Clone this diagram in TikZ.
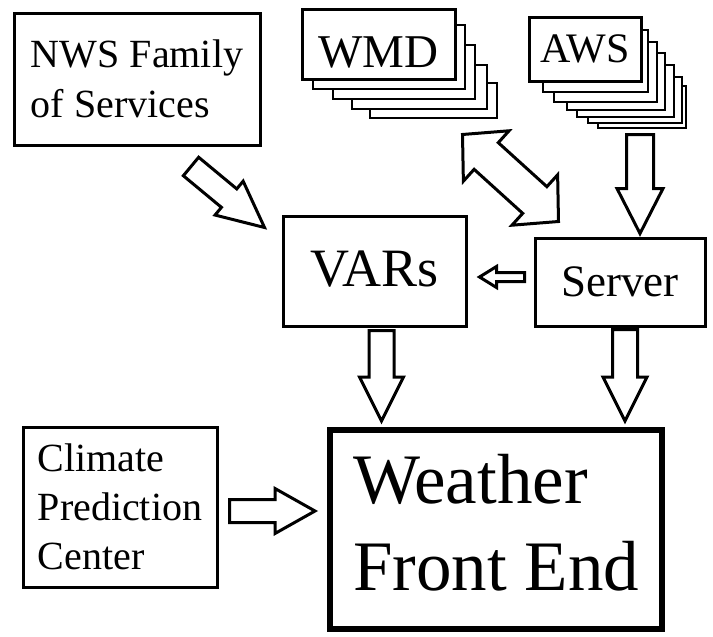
\documentclass[tikz,border=0pt]{standalone}
\usepackage{fontspec}
\setmainfont{Liberation Serif}
\usetikzlibrary{calc}

% hollow block arrow: tail, tip, half shaft, half head, head length
\newcommand{\blockarrow}[5]{%
  \coordinate (ba) at ($(#2)!#5!(#1)$);
  \draw[fatarrow] ($(#1)!#3!90:(#2)$) -- ($(ba)!#3!90:(#2)$) -- ($(ba)!#4!90:(#2)$) -- (#2)
    -- ($(ba)!#4!-90:(#2)$) -- ($(ba)!#3!-90:(#2)$) -- ($(#1)!#3!-90:(#2)$) -- cycle;
}
% two headed version: tip, tip, half shaft, half head, head length
\newcommand{\dblockarrow}[5]{%
  \coordinate (bb1) at ($(#1)!#5!(#2)$);
  \coordinate (bb2) at ($(#2)!#5!(#1)$);
  \draw[fatarrow] (#1) -- ($(bb1)!#4!90:(#2)$) -- ($(bb1)!#3!90:(#2)$) -- ($(bb2)!#3!90:(#2)$)
    -- ($(bb2)!#4!90:(#2)$) -- (#2) -- ($(bb2)!#4!-90:(#2)$) -- ($(bb2)!#3!-90:(#2)$)
    -- ($(bb1)!#3!-90:(#2)$) -- ($(bb1)!#4!-90:(#2)$) -- cycle;
}

\begin{document}
\begin{tikzpicture}[
            x=1pt, y=-1pt,
            sysbox/.style={draw, line width=3pt, fill=white, inner sep=0pt},
            mainbox/.style={sysbox, line width=6pt},
            backbox/.style={draw, line width=2.5pt, fill=white},
            fatarrow/.style={draw, line width=3pt, fill=white, line join=miter}
          ]
          \fill[white] (0,0) rectangle (713,637);
          \useasboundingbox (0,0) rectangle (713,637);
          % stacked copies behind WMD and AWS
          \foreach \xa/\ya/\xb/\yb in {370/83/497/118, 352/65/487/109, 333/45/475/99, 313/25/465/89} {
            \draw[backbox] (\xa,\ya) rectangle (\xb,\yb);
          }
          \foreach \xa/\ya/\xb/\yb in {598/86/686/128, 588/77/682/123, 577/65/674/117, 567/53/665/110, 554/42/657/102, 543/30/648/92} {
            \draw[backbox] (\xa,\ya) rectangle (\xb,\yb);
          }
          \node[sysbox, minimum width=246pt, minimum height=132pt, align=left, font=\fontsize{40pt}{50pt}\selectfont] (nws) at (137,79) {NWS Family\\of Services};
          \node[sysbox, minimum width=153pt, minimum height=70pt, text height=46pt, text depth=0pt, font=\fontsize{47pt}{50pt}\selectfont] (wmd) at (378.5,44) {WMD};
          \node[sysbox, minimum width=112pt, minimum height=64pt, font=\fontsize{42pt}{46pt}\selectfont] (aws) at (585,49) {AWS};
          \node[sysbox, minimum width=183pt, minimum height=110pt, text height=36pt, text depth=6pt, font=\fontsize{54pt}{60pt}\selectfont] (vars) at (374.5,271) {VARs};
          \node[sysbox, minimum width=170pt, minimum height=88pt, font=\fontsize{45pt}{50pt}\selectfont] (server) at (620,282) {Server};
          \node[mainbox, minimum width=332pt, minimum height=199pt, align=left, text depth=14pt, font=\fontsize{71pt}{87pt}\selectfont] (wfe) at (496,529.5) {Weather\\Front End};
          \node[sysbox, minimum width=194pt, minimum height=160pt, align=left, font=\fontsize{40pt}{49pt}\selectfont] (cpc) at (120,507) {Climate\\Prediction\\Center};
          % block arrows
          \coordinate (n1) at ([xshift=54pt, yshift=-20pt]nws.south);
          \coordinate (n2) at ([xshift=-17pt, yshift=-13pt]vars.north west);
          \blockarrow{n1}{n2}{12pt}{22pt}{46pt}
          \coordinate (w1) at ([xshift=6pt, yshift=-54pt]wmd.south east);
          \coordinate (w2) at ([xshift=25pt, yshift=15pt]server.north west);
          \dblockarrow{w1}{w2}{18pt}{34pt}{32pt}
          \coordinate (a1) at ([xshift=55pt, yshift=-52pt]aws.south);
          \coordinate (a2) at ([xshift=20pt, yshift=3pt]server.north);
          \blockarrow{a1}{a2}{13.5pt}{23pt}{45pt}
          \coordinate (s1) at ([xshift=-9pt, yshift=5pt]server.west);
          \coordinate (s2) at ([xshift=12pt, yshift=-6pt]vars.east);
          \blockarrow{s1}{s2}{4.5pt}{10.5pt}{17pt}
          \coordinate (v1) at ([xshift=7pt, yshift=-3pt]vars.south);
          \coordinate (v2) at ($(v1 |- wfe.north)+(0pt,6pt)$);
          \blockarrow{v1}{v2}{12.5pt}{22pt}{44pt}
          \coordinate (r1) at ([xshift=5pt, yshift=-2pt]server.south);
          \coordinate (r2) at ($(r1 |- wfe.north)+(0pt,6pt)$);
          \blockarrow{r1}{r2}{12.5pt}{22pt}{44pt}
          \coordinate (c1) at ([xshift=11pt, yshift=-4pt]cpc.east);
          \coordinate (c2) at ($(c1 -| wfe.west)+(-12pt,0pt)$);
          \blockarrow{c1}{c2}{11.5pt}{22.5pt}{40pt}
        \end{tikzpicture}
\end{document}
